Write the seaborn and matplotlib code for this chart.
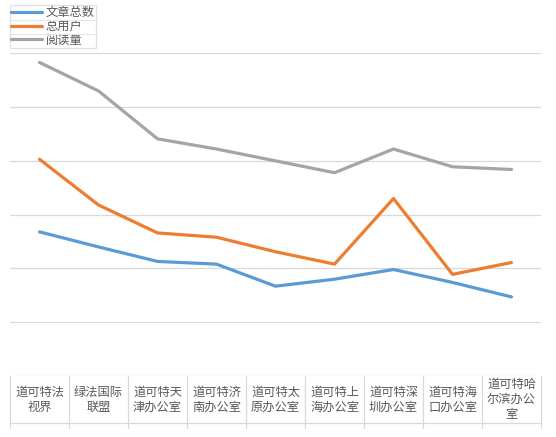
import pandas as pd
import seaborn as sns
import matplotlib.pyplot as plt
from matplotlib.lines import Line2D
import matplotlib.transforms as mtransforms

# datos (unidades = lineas de la rejilla)
categorias = ["道可特法\n视界", "绿法国际\n联盟", "道可特天\n津办公室", "道可特济\n南办公室",
              "道可特太\n原办公室", "道可特上\n海办公室", "道可特深\n圳办公室", "道可特海\n口办公室",
              "道可特哈\n尔滨办公\n室"]
series = ["文章总数", "总用户", "阅读量"]
articulos = [2.68, 2.40, 2.13, 2.08, 1.67, 1.80, 1.98, 1.74, 1.47]
usuarios = [4.03, 3.18, 2.66, 2.58, 2.31, 2.08, 3.30, 1.89, 2.11]
lecturas = [5.83, 5.30, 4.41, 4.22, 4.00, 3.78, 4.22, 3.89, 3.84]
colores = ["#5B9BD5", "#ED7D31", "#A5A5A5"]

df = pd.DataFrame({
    "pos": list(range(len(categorias))) * 3,
    "valor": articulos + usuarios + lecturas,
    "serie": [s for s in series for _ in categorias],
})

sns.set_theme(style="white")
plt.rcParams["font.family"] = ["Noto Sans CJK SC", "DejaVu Sans"]

W, H = 556, 437
fig = plt.figure(figsize=(W / 100, H / 100), dpi=100)
ax = fig.add_axes([10 / W, 1 - 376 / H, 531 / W, (376 - 53.3) / H])

sns.lineplot(data=df, x="pos", y="valor", hue="serie", hue_order=series,
             palette=colores, linewidth=2.3, ax=ax)

ax.set_xlim(-0.5, len(categorias) - 0.5)
ax.set_ylim(0, 6)
ax.set_yticks(range(0, 7))
ax.set_yticklabels([])
ax.grid(axis="y", color="#d9d9d9", linewidth=0.9)
ax.set_axisbelow(True)
for s in ax.spines.values():
    s.set_visible(False)
ax.set_xlabel("")
ax.set_ylabel("")

# etiquetas del eje x dentro de la "tabla"
ax.set_xticks(range(len(categorias)))
ax.set_xticklabels(categorias, fontsize=8.8, color="#595959", linespacing=1.2)
ax.tick_params(axis="x", length=0, pad=17)
ax.tick_params(axis="y", length=0)
for t in ax.get_xticklabels():
    t.set_verticalalignment("center")

# bordes de la tabla
trans = mtransforms.blended_transform_factory(ax.transData, ax.transAxes)
alto = 376 - 53.3
y_inf = -(423 - 376) / alto
y_tick = -(428 - 376) / alto
for k in range(len(categorias) + 1):
    ax.plot([k - 0.5, k - 0.5], [0, y_tick], color="#d9d9d9", lw=0.9,
            transform=trans, clip_on=False)
ax.plot([-0.5, len(categorias) - 0.5], [y_inf, y_inf], color="#d9d9d9", lw=0.9,
        transform=trans, clip_on=False)

# leyenda
leg = ax.legend(loc="upper left", bbox_to_anchor=(10 / W, 1 - 5 / H),
                bbox_transform=fig.transFigure, frameon=True, fancybox=False,
                fontsize=8.8, handlelength=2.5, handletextpad=0.3,
                borderpad=0.1, labelspacing=0.05, borderaxespad=0)
leg.get_frame().set_edgecolor("#d9d9d9")
leg.get_frame().set_linewidth(0.9)
for t in leg.get_texts():
    t.set_color("#595959")
for yy in (20, 34):
    fig.add_artist(Line2D([10 / W, 97 / W], [1 - yy / H, 1 - yy / H],
                          color="#e6e6e6", lw=0.8, transform=fig.transFigure))

fig.savefig("out.png", dpi=100)
